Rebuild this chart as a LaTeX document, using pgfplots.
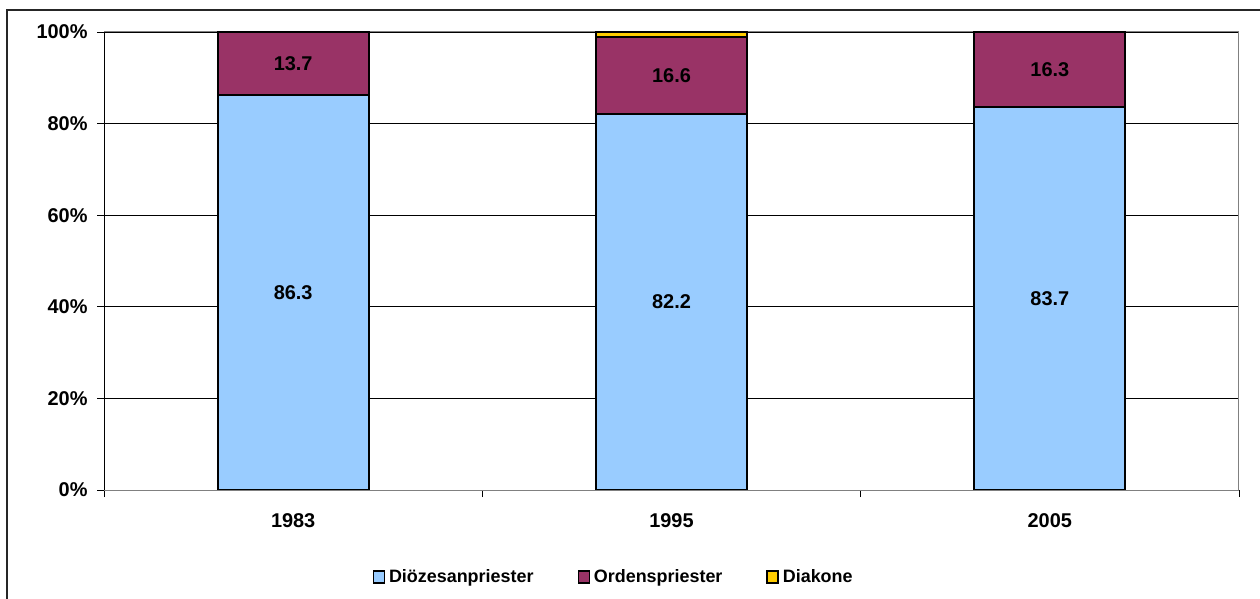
\documentclass[border=0pt]{standalone}
\usepackage{fontspec}
\setmainfont{Liberation Sans}
\usepackage{pgfplots}
\pgfplotsset{compat=1.18}
\definecolor{dioez}{HTML}{99CCFF}
\definecolor{orden}{HTML}{993366}
\definecolor{diakon}{HTML}{FFCC00}
\begin{document}
\begin{tikzpicture}
\useasboundingbox (0bp,0bp) rectangle (1260bp,599bp);
\draw[line width=1.5bp, black!85] (7bp,0bp) -- (7bp,589bp) -- (1260bp,589bp);
\pgfplotsset{
  base/.style={
    at={(104bp,109bp)}, anchor=south west,
    scale only axis, width=1135bp, height=458bp,
    xmin=-0.5, xmax=2.5, ymin=0, ymax=100,
  },
  mylegend/.style={legend image code/.code={
    \draw[##1, draw=black, line width=1.4bp] (0bp,-6bp) rectangle (11bp,6bp);}},
}
\begin{axis}[base,
  ybar stacked, bar width=0.4,
  axis line style={draw=gray, line width=1bp},
  ymajorgrids, major grid style={black, line width=0.8bp},
  ytick={0,20,40,60,80,100},
  yticklabels={0\%,20\%,40\%,60\%,80\%,100\%},
  xtick={-0.5,0.5,1.5,2.5}, xticklabels={},
  extra x ticks={0,1,2}, extra x tick labels={1983,1995,2005},
  extra x tick style={major tick length=0pt},
  xtick pos=lower, ytick pos=left,
  tick align=outside, major tick length=7bp,
  tick style={black, line width=0.8bp},
  x tick label style={font=\fontsize{20}{23}\selectfont\bfseries, yshift=-20bp},
  y tick label style={font=\fontsize{20}{23}\selectfont\bfseries, xshift=-6bp},
  every axis plot post/.append style={mylegend},
  legend columns=3,
  legend style={draw=none, at={(0.449,-0.19)}, anchor=center,
    font=\fontsize{18}{21}\selectfont\bfseries,
    inner sep=0pt,
    /tikz/every even column/.append style={column sep=42bp},
    /tikz/every odd column/.append style={column sep=2bp}},
]
\addplot[fill=dioez, draw=black, line width=2bp] coordinates {(0,86.3) (1,82.2) (2,83.7)};
\addlegendentry{Diözesanpriester}
\addplot[fill=orden, draw=black, line width=2bp] coordinates {(0,13.7) (1,16.6) (2,16.3)};
\addlegendentry{Ordenspriester}
\addplot[fill=diakon, draw=black, line width=2bp] coordinates {(0,0) (1,1.2) (2,0)};
\addlegendentry{Diakone}
\draw[black, line width=1bp] (rel axis cs:0,1) -- (rel axis cs:0,0) -- (rel axis cs:1,0);
\end{axis}
\begin{axis}[base, hide axis]
\addplot[draw=none, nodes near coords, nodes near coords align=center,
  point meta=explicit symbolic,
  every node near coord/.append style={font=\fontsize{20}{23}\selectfont\bfseries, black}]
  coordinates {(0,43.15) [86.3] (0,93.15) [13.7]
               (1,41.1) [82.2] (1,90.5) [16.6]
               (2,41.85) [83.7] (2,91.85) [16.3]};
\end{axis}
\end{tikzpicture}
\end{document}
